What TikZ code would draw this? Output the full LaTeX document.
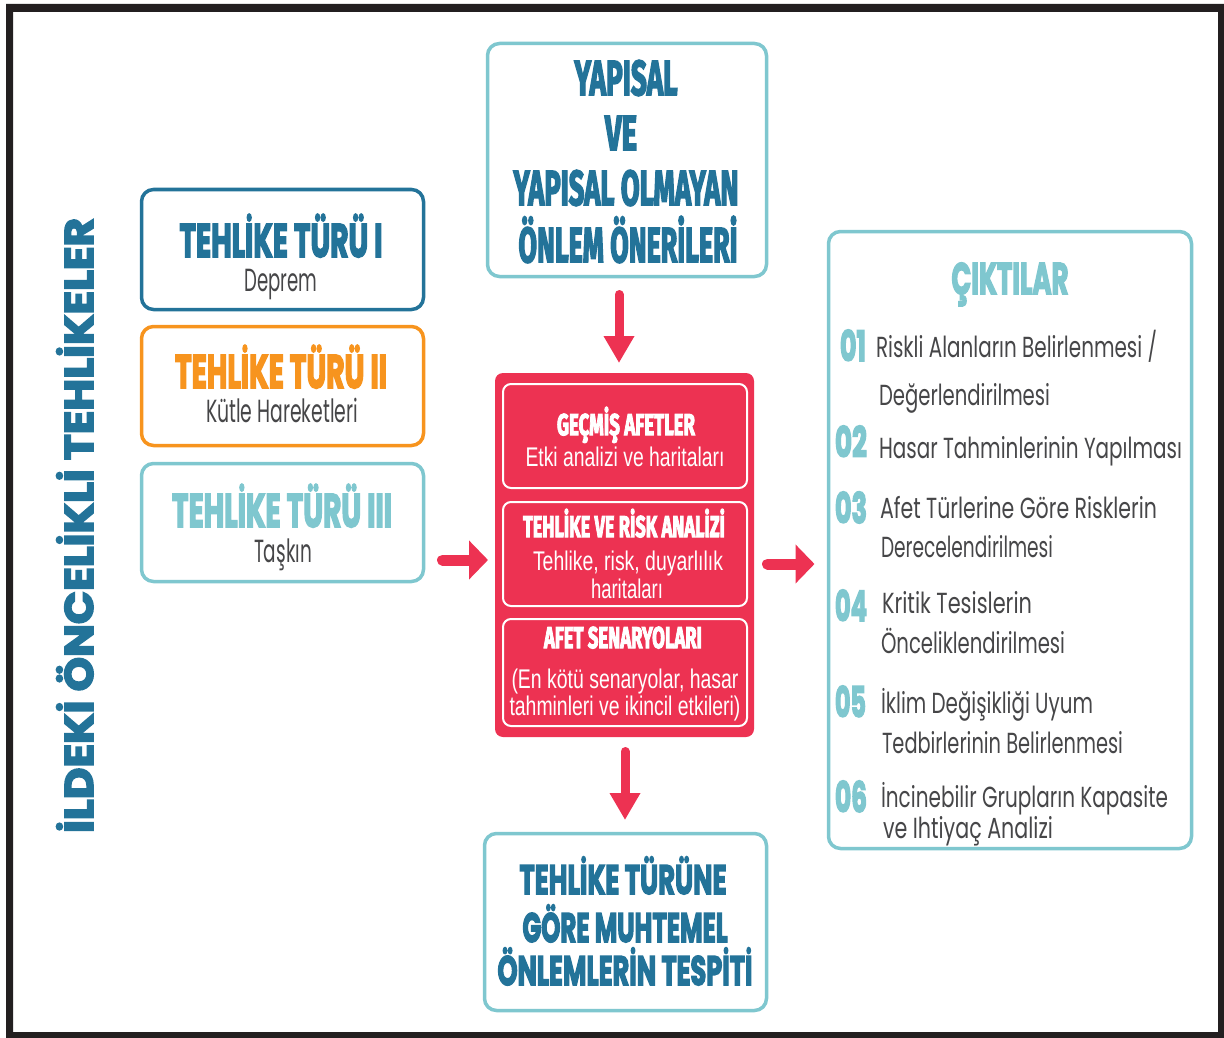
\documentclass[tikz,border=0pt]{standalone}
\usepackage{fontspec}
\usepackage{graphicx}
\usetikzlibrary{arrows.meta}
\newfontfamily\impfont{Fira Sans}[FakeBold=4, BoldFeatures={FakeBold=4}]
\newfontfamily\popfont{Poppins}
\newfontfamily\popheavy{Poppins}[FakeBold=4, BoldFeatures={FakeBold=4}]
\newfontfamily\narfont{Liberation Sans}
\definecolor{dblue}{RGB}{35,115,153}
\definecolor{orng}{RGB}{247,148,30}
\definecolor{lteal}{RGB}{127,199,207}
\definecolor{hred}{RGB}{237,50,82}
\definecolor{gtext}{RGB}{70,70,72}
\definecolor{framec}{RGB}{35,31,32}
\newsavebox\fitbox
\newcommand\fitx[2]{\sbox\fitbox{#2}\dp\fitbox=0pt\pgfmathsetmacro\fitr{#1/\the\wd\fitbox}\scalebox{\fitr}[1]{\usebox\fitbox}}
\newcommand\fs[1]{\fontsize{#1}{#1}\selectfont}
\tikzset{
  txt/.style={anchor=base, inner sep=0pt, outer sep=0pt},
  txtl/.style={anchor=base west, inner sep=0pt, outer sep=0pt},
  frame box/.style={draw, rounded corners=12pt, line width=3.5pt, inner sep=0pt, outer sep=0pt, fill=white},
  inner box/.style={draw=white, rounded corners=8pt, line width=2pt, inner sep=0pt, outer sep=0pt},
  toptxt/.style={txt, text=dblue, font=\impfont\bfseries\fs{49}},
  lefttitle/.style={txt, font=\popheavy\bfseries\fs{47}},
  leftsub/.style={txt, text=gtext, font=\popfont\fs{32}},
  redhead/.style={txt, text=white, font=\impfont\bfseries\fs{30}},
  redbody/.style={txt, text=white, font=\narfont\fs{27}},
  bottxt/.style={txt, text=dblue, font=\popheavy\bfseries\fs{41}},
  numtxt/.style={txtl, text=lteal, font=\popheavy\bfseries\fs{42}},
  listtxt/.style={txtl, text=gtext, font=\popfont\fs{29}},
  arrv/.style={draw=hred, line width=9pt, line cap=round, -{Triangle[width=29pt,length=27pt]}},
  arrh/.style={draw=hred, line width=11pt, line cap=round, -{Triangle[width=38pt,length=19pt]}}
}
\begin{document}
\begin{tikzpicture}[x=1pt,y=-1pt]
\useasboundingbox (0,0) rectangle (1224,1038);
% outer frame
\fill[framec, even odd rule] (6,4) rectangle (1240,1050) (13,12) rectangle (1218,1032);

% vertical title
\node[txt, rotate=90, text=dblue, font=\popheavy\bfseries\fs{40}] (vtitle) at (93,525.5) {\fitx{615}{İLDEKİ ÖNCELİKLİ TEHLİKELER}};

% left boxes
\node[frame box, draw=dblue, minimum width=282pt, minimum height=120pt] (h1) at (282.5,249.5) {};
\node[frame box, draw=orng, minimum width=282pt, minimum height=119pt] (h2) at (282.5,386) {};
\node[frame box, draw=lteal, minimum width=282pt, minimum height=118pt] (h3) at (282.5,522.5) {};
\node[lefttitle, text=dblue] (h1t) at (281,257) {\fitx{203}{TEHLİKE TÜRÜ I}};
\node[leftsub] (h1s) at (281,291) {\fitx{73}{Deprem}};
\node[lefttitle, text=orng] (h2t) at (281,388) {\fitx{212}{TEHLİKE TÜRÜ II}};
\node[leftsub] (h2s) at (282,422) {\fitx{152}{Kütle Hareketleri}};
\node[lefttitle, text=lteal] (h3t) at (282,527) {\fitx{220}{TEHLİKE TÜRÜ III}};
\node[leftsub] (h3s) at (283,562) {\fitx{58}{Taşkın}};

% top box
\node[frame box, draw=lteal, minimum width=279pt, minimum height=233pt] (top) at (627,160) {};
\node[toptxt] (t1) at (626,95) {\fitx{103}{YAPISAL}};
\node[toptxt] (t2) at (621,150) {\fitx{32}{VE}};
\node[toptxt] (t3) at (626,205) {\fitx{225}{YAPISAL OLMAYAN}};
\node[toptxt] (t4) at (628,262) {\fitx{219}{ÖNLEM ÖNERİLERİ}};

% red box
\node[fill=hred, rounded corners=8pt, inner sep=0pt, outer sep=0pt, minimum width=259pt, minimum height=364pt] (red) at (624.5,555) {};
\node[inner box, minimum width=244pt, minimum height=104pt] (in1) at (625,436) {};
\node[inner box, minimum width=244pt, minimum height=104pt] (in2) at (625,554) {};
\node[inner box, minimum width=244pt, minimum height=107pt] (in3) at (625,672.5) {};
\node[redhead] (r1) at (626,435) {\fitx{138}{GEÇMİŞ AFETLER}};
\node[redbody] (r1b) at (625,466) {\fitx{199}{Etki analizi ve haritaları}};
\node[redhead] (r2) at (624,537) {\fitx{202}{TEHLİKE VE RİSK ANALİZİ}};
\node[redbody] (r2b) at (628,570) {\fitx{190}{Tehlike, risk, duyarlılık}};
\node[redbody] (r2c) at (627,598) {\fitx{72}{haritaları}};
\node[redhead] (r3) at (623,648) {\fitx{158}{AFET SENARYOLARI}};
\node[redbody] (r3b) at (625,688) {\fitx{227}{(En kötü senaryolar, hasar}};
\node[redbody] (r3c) at (625,715) {\fitx{231}{tahminleri ve ikincil etkileri)}};

% bottom box
\node[frame box, draw=lteal, minimum width=282pt, minimum height=177pt] (bot) at (625.5,922) {};
\node[bottxt] (b1) at (623,894) {\fitx{207}{TEHLİKE TÜRÜNE}};
\node[bottxt] (b2) at (625,942) {\fitx{205}{GÖRE MUHTEMEL}};
\node[bottxt] (b3) at (625,985) {\fitx{255}{ÖNLEMLERİN TESPİTİ}};

% outputs box
\node[frame box, draw=lteal, minimum width=363pt, minimum height=617pt] (out) at (1010,540) {};
\node[txt, text=lteal, font=\popheavy\bfseries\fs{44}] (outt) at (1010,294) {\fitx{117}{ÇIKTILAR}};
\node[numtxt] (n1) at (840,361) {\fitx{26}{01}};
\node[numtxt] (n2) at (835,457) {\fitx{32}{02}};
\node[numtxt] (n3) at (835,523) {\fitx{32}{03}};
\node[numtxt] (n4) at (835,621) {\fitx{32}{04}};
\node[numtxt] (n5) at (835,717) {\fitx{31}{05}};
\node[numtxt] (n6) at (835,812) {\fitx{32}{06}};
\node[listtxt] (o1a) at (876,357) {\fitx{281}{Riskli Alanların Belirlenmesi /}};
\node[listtxt] (o1b) at (879,405) {\fitx{171}{Değerlendirilmesi}};
\node[listtxt] (o2a) at (879,458) {\fitx{303}{Hasar Tahminlerinin Yapılması}};
\node[listtxt] (o3a) at (880,518) {\fitx{277}{Afet Türlerine Göre Risklerin}};
\node[listtxt] (o3b) at (881,557) {\fitx{172}{Derecelendirilmesi}};
\node[listtxt] (o4a) at (882,613) {\fitx{150}{Kritik Tesislerin}};
\node[listtxt] (o4b) at (881,653) {\fitx{184}{Önceliklendirilmesi}};
\node[listtxt] (o5a) at (881,713) {\fitx{212}{İklim Değişikliği Uyum}};
\node[listtxt] (o5b) at (882,753) {\fitx{241}{Tedbirlerinin Belirlenmesi}};
\node[listtxt] (o6a) at (881,807) {\fitx{287}{İncinebilir Grupların Kapasite}};
\node[listtxt] (o6b) at (883,838) {\fitx{170}{ve Ihtiyaç Analizi}};

% arrows
\coordinate (a1) at (619,294.5);
\draw[arrv, shorten >=10pt] (a1) -- (a1 |- red.north);
\coordinate (a2) at (625,751.5);
\draw[arrv, shorten >=13.5pt] (a2) -- (a2 |- bot.north);
\coordinate (a3) at (442.5,560);
\draw[arrh, shorten >=7pt] (a3) -- (a3 -| red.west);
\coordinate (a4) at (767.5,564);
\draw[arrh, shorten >=14pt] (a4) -- (a4 -| out.west);
\end{tikzpicture}
\end{document}
